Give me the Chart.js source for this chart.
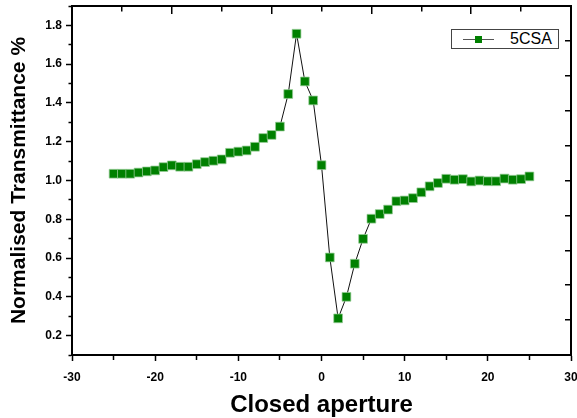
<!DOCTYPE html>
<html>
<head>
<meta charset="utf-8">
<script src="https://cdn.jsdelivr.net/npm/chart.js@4/dist/chart.umd.min.js"></script>
<style>
    body { margin: 0; background: #fff; }
    #wrap { position: relative; width: 577px; height: 418px; overflow: hidden; }
    #legend {
        position: absolute; left: 451px; top: 29px; width: 108px; height: 20px;
        border: 1px solid #444; background: #fff;
        font: 16px "Liberation Sans", Arial, sans-serif; color: #000;
        display: flex; align-items: center; box-sizing: border-box;
    }
    #legend .seg { width: 12px; height: 1px; background: #555; }
    #legend .box { width: 7px; height: 7px; background: #008000; }
    #legend .sym { display: flex; align-items: center; margin-left: 11px; }
    #legend .txt { margin-left: 16px; }
</style>
</head>
<body>
<div id="wrap">
    <canvas id="zscan" width="577" height="418"></canvas>
    <div id="legend"></div>
</div>
<script>
// Closed aperture z-scan data
const seriesName = "5CSA";
const aperturePos = [
    -25, -24, -23, -22, -21, -20, -19, -18, -17, -16, -15, -14, -13, -12, -11, -10, -9, -8, -7, -6, -5, -4, -3, -2, -1,
    0, 1, 2, 3, 4, 5, 6, 7, 8, 9, 10, 11, 12, 13, 14, 15, 16, 17, 18, 19, 20, 21, 22, 23, 24, 25
];
const transmittance = [
    1.035, 1.035, 1.035, 1.041, 1.047, 1.052, 1.069, 1.078, 1.071, 1.071, 1.084, 1.095, 1.102, 1.109, 1.143, 1.149,
    1.155, 1.174, 1.219, 1.235, 1.278, 1.446, 1.757, 1.511, 1.413,
    1.079, 0.603, 0.289, 0.400, 0.571, 0.699, 0.803, 0.827, 0.850, 0.893, 0.897, 0.909, 0.939, 0.970, 0.987,
    1.009, 1.004, 1.007, 0.995, 1.000, 0.996, 0.996, 1.010, 1.004, 1.007, 1.021
];
const xTicks = [-30, -20, -10, 0, 10, 20, 30];
const yTicks = [0.2, 0.4, 0.6, 0.8, 1.0, 1.2, 1.4, 1.6, 1.8];

const points = aperturePos.map((x, i) => ({ x: x, y: transmittance[i] }));
const tickFont = { family: "'Liberation Sans', Arial, sans-serif", size: 12, weight: "bold" };

// mirror axes: gridlines dashed so only a short inward tick is left at the frame
function edgeColor(ctx) {
    return ctx.index === 0 || ctx.index === 10 ? "rgba(0,0,0,0)" : "#000";
}

// fixed box sizes, no extra room for overhanging labels
function fixBox(w, h) {
    return (s) => {
        if (w !== null) s.width = w;
        if (h !== null) s.height = h;
        s.paddingLeft = 0;
        s.paddingRight = 0;
        s.paddingTop = 0;
        s.paddingBottom = 0;
    };
}

new Chart(document.getElementById("zscan"), {
    type: "line",
    data: {
        datasets: [{
            label: seriesName,
            data: points,
            borderColor: "#111",
            borderWidth: 1,
            pointStyle: "rect",
            pointRadius: 6.2,
            pointBackgroundColor: "#008000",
            pointBorderColor: "rgba(150,205,150,0.9)",
            pointBorderWidth: 0.8,
            tension: 0,
        }],
    },
    options: {
        responsive: false,
        animation: false,
        layout: { padding: 0, autoPadding: false },
        plugins: { legend: { display: false }, tooltip: { enabled: false } },
        scales: {
            x: {
                type: "linear",
                position: "bottom",
                min: -30,
                max: 30,
                afterFit: fixBox(null, 63),
                ticks: {
                    stepSize: 5,
                    padding: 9,
                    color: "#000",
                    font: tickFont,
                    maxRotation: 0,
                    autoSkip: false,
                    callback: (v) => (xTicks.includes(v) ? String(v) : ""),
                },
                grid: {
                    drawOnChartArea: false,
                    tickLength: 6,
                    tickColor: "#000",
                    tickWidth: 1.5,
                    tickBorderDash: (c) => (xTicks.includes(c.tick.value) ? [] : [4, 100]),
                },
                border: { color: "#000", width: 2 },
                title: {
                    display: true,
                    text: "Closed aperture",
                    color: "#000",
                    font: { family: "'Liberation Sans', Arial, sans-serif", size: 24, weight: "bold", lineHeight: 1 },
                    padding: { top: 0, bottom: 1 },
                },
            },
            xTop: {
                type: "linear",
                position: "top",
                min: 0,
                max: 10,
                afterFit: fixBox(null, 6),
                ticks: { display: false, stepSize: 1 },
                grid: {
                    drawOnChartArea: true,
                    drawTicks: false,
                    color: edgeColor,
                    lineWidth: 1.5,
                },
                border: {
                    color: "#000",
                    width: 2,
                    dash: (c) => (c.index % 2 === 0 ? [7, 2000] : [4.5, 2000]),
                },
            },
            y: {
                type: "linear",
                position: "left",
                min: 0.1,
                max: 1.9,
                afterFit: fixBox(72, null),
                ticks: {
                    stepSize: 0.1,
                    padding: 4,
                    color: "#000",
                    font: tickFont,
                    autoSkip: false,
                    callback: (v) => {
                        const t = Math.round(v * 10);
                        return t % 2 === 0 && yTicks.includes(t / 10) ? (t / 10).toFixed(1) : "";
                    },
                },
                grid: {
                    drawOnChartArea: false,
                    tickLength: 6,
                    tickColor: "#000",
                    tickWidth: 1.5,
                    tickBorderDash: (c) => (Math.round(c.tick.value * 10) % 2 === 0 ? [] : [0, 2.5, 3.5, 100]),
                },
                border: { color: "#000", width: 2 },
                title: {
                    display: true,
                    text: "Normalised Transmittance %",
                    color: "#000",
                    font: { family: "'Liberation Sans', Arial, sans-serif", size: 21, weight: "bold", lineHeight: 1 },
                    padding: { top: 9, bottom: 0 },
                },
            },
            yRight: {
                type: "linear",
                position: "right",
                min: 0,
                max: 10,
                afterFit: fixBox(6, null),
                ticks: { display: false, stepSize: 1 },
                grid: {
                    drawOnChartArea: true,
                    drawTicks: false,
                    color: edgeColor,
                    lineWidth: 1.5,
                },
                border: {
                    color: "#000",
                    width: 2,
                    dash: (c) => {
                        const w = c.chart.chartArea ? c.chart.chartArea.width : 499;
                        return [0, w - 6, 6, 2000];
                    },
                },
            },
        },
    },
});

// Boxed legend drawn from the dataset
const legend = document.getElementById("legend");
legend.innerHTML =
    '<span class="sym"><span class="seg"></span><span class="box"></span><span class="seg"></span></span>' +
    '<span class="txt">' + seriesName + "</span>";
</script>
</body>
</html>
